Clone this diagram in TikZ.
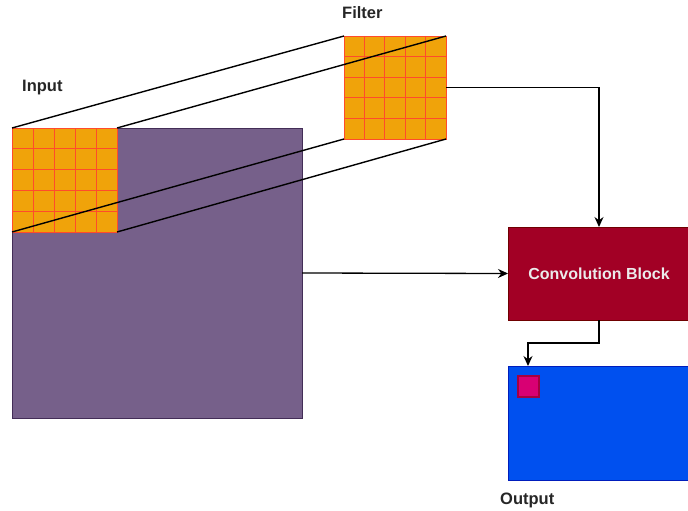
\documentclass[tikz,border=0pt]{standalone}
\usepackage{fontspec}
\setmainfont{Liberation Sans}
\usetikzlibrary{arrows.meta,calc}
\definecolor{inpurple}{HTML}{76608A}
\definecolor{inpurpleline}{HTML}{432D57}
\definecolor{gridfill}{HTML}{F0A30A}
\definecolor{gridline}{HTML}{FF4B2B}
\definecolor{convfill}{HTML}{A20025}
\definecolor{convline}{HTML}{6F0000}
\definecolor{outfill}{HTML}{0050EF}
\definecolor{outline}{HTML}{001DBC}
\definecolor{cellfill}{HTML}{D80073}
\definecolor{cellline}{HTML}{A50040}
\begin{document}
\begin{tikzpicture}[x=1pt,y=-1pt,
  box/.style={anchor=north west,inner sep=0pt,outer sep=0pt,line width=0.8pt},
  gridbox/.style={box,fill=gridfill,draw=gridline},
  link/.style={line width=1.4pt,black},
  flow/.style={line width=1.3pt,black,-{Stealth[length=10pt,width=9pt]}},
  lbl/.style={anchor=base west,inner sep=0pt,font=\bfseries\fontsize{16.5}{19}\selectfont,text=black!85}]
\useasboundingbox (0,0) rectangle (688,511);

% large input map
\node[box,fill=inpurple,draw=inpurpleline,minimum width=290pt,minimum height=290pt] (inp) at (12,128) {};
% receptive field on the input and the filter
\node[gridbox,minimum width=105pt,minimum height=104pt] (win) at (12,128) {};
\node[gridbox,minimum width=102pt,minimum height=103pt] (flt) at (344,36) {};
\foreach \n in {win,flt}{
  \foreach \i in {1,...,4}{
    \draw[gridline,line width=0.9pt] ($(\n.north west)!\i/5!(\n.north east)$) -- ($(\n.south west)!\i/5!(\n.south east)$);
    \draw[gridline,line width=0.9pt] ($(\n.north west)!\i/5!(\n.south west)$) -- ($(\n.north east)!\i/5!(\n.south east)$);
  }
}

% projection lines between window and filter
\draw[link] (win.north west) -- (flt.north west);
\draw[link] (win.north east) -- (flt.north east);
\draw[link] (win.south west) -- (flt.south west);
\draw[link] (win.south east) -- (flt.south east);

% convolution block and output
\node[box,fill=convfill,draw=convline,minimum width=182pt,minimum height=93pt,
  text=white!92!black,font=\bfseries\fontsize{16}{19}\selectfont] (conv) at (508,227) {Convolution Block};
\node[box,fill=outfill,draw=outline,minimum width=182pt,minimum height=114pt] (out) at (508,366) {};
\node[box,fill=cellfill,draw=cellline,line width=1.2pt,minimum width=21pt,minimum height=21pt] (cell) at (518,376) {};

% labels
\node[lbl] (tin) at (22,92) {Input};
\node[lbl] (tflt) at (342,19) {Filter};
\node[lbl] (tout) at (500,504) {Output};

% data flow
\coordinate (bend) at (528,343);
\draw[flow] (flt.east) -| (conv.north);
\draw[flow] (inp.east) -- (conv.west);
\draw[flow] (conv.south) |- (bend) -- (bend |- out.north);
\end{tikzpicture}
\end{document}
